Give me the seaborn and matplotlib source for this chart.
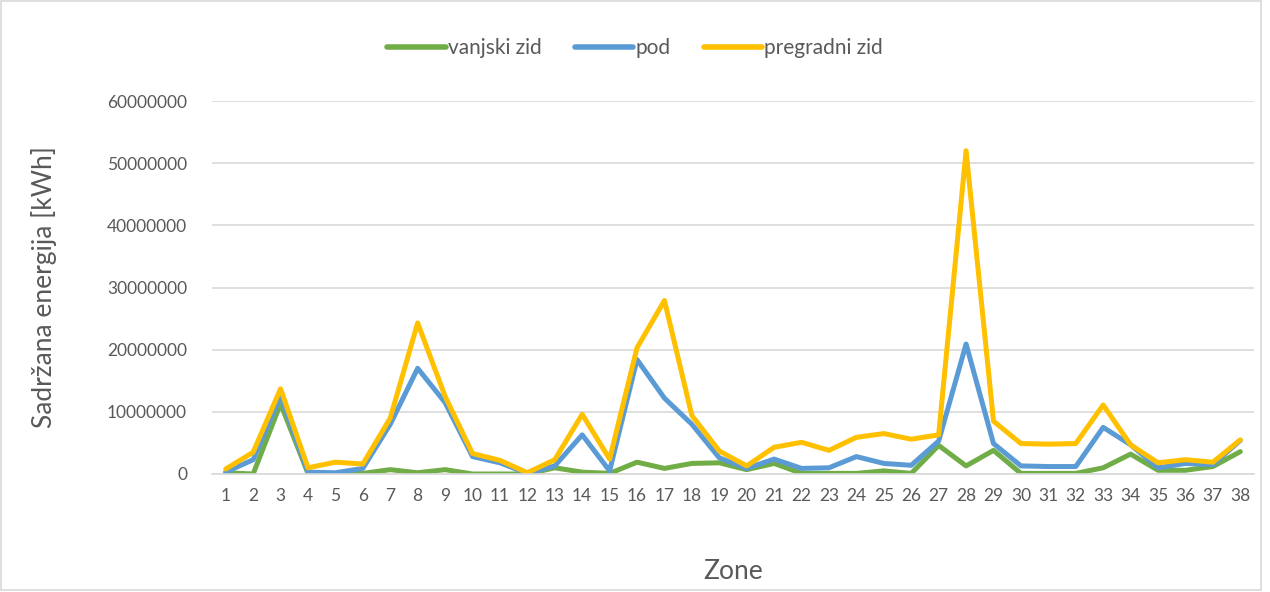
import pandas as pd
import matplotlib.pyplot as plt
import seaborn as sns
from matplotlib.patches import Rectangle

# --- Data (kWh) ---
ZONES = list(range(1, 39))

VANJSKI_ZID = [0.2, 0.0, 11.3, 0.1, 0.0, 0.1, 0.7, 0.2, 0.7, 0.0,
               0.0, 0.0, 1.0, 0.3, 0.1, 1.9, 0.9, 1.7, 1.8, 0.7,
               1.7, 0.1, 0.1, 0.1, 0.5, 0.1, 4.6, 1.3, 3.8, 0.1,
               0.1, 0.1, 1.0, 3.2, 0.6, 0.6, 1.2, 3.6]
POD = [0.3, 2.3, 12.5, 0.3, 0.2, 0.9, 8.0, 17.0, 11.5, 2.8,
       1.8, 0.1, 1.3, 6.3, 0.5, 18.4, 12.2, 8.0, 2.6, 0.9,
       2.4, 0.9, 1.0, 2.8, 1.7, 1.4, 5.3, 20.9, 4.9, 1.3,
       1.2, 1.2, 7.5, 4.7, 1.0, 1.7, 1.5, 5.4]
PREGRADNI_ZID = [0.8, 3.5, 13.7, 1.0, 1.9, 1.6, 9.0, 24.3, 12.5, 3.3,
                 2.2, 0.2, 2.3, 9.6, 2.4, 20.3, 27.9, 9.4, 3.7, 1.3,
                 4.3, 5.1, 3.8, 5.9, 6.5, 5.6, 6.3, 52.0, 8.5, 4.9,
                 4.8, 4.9, 11.1, 4.7, 1.8, 2.3, 1.9, 5.5]

SERIES = ['vanjski zid', 'pod', 'pregradni zid']
COLORS = ['#70AD47', '#5B9BD5', '#FFC000']
Y_TICKS = [0, 10000000, 20000000, 30000000, 40000000, 50000000, 60000000]

# --- Build long-form table ---
rows = []
for name, vals in zip(SERIES, [VANJSKI_ZID, POD, PREGRADNI_ZID]):
    for z, v in zip(ZONES, vals):
        rows.append({'Zone': z, 'Energija': v * 1e6, 'Serija': name})
df = pd.DataFrame(rows)

sns.set_theme(style='white')
plt.rcParams['font.family'] = ['Lato', 'DejaVu Sans']
TXT = '#595959'

fig = plt.figure(figsize=(12.7, 5.92), dpi=100)
ax = fig.add_axes([212 / 1270, 118 / 592, 1042 / 1270, 373 / 592])

sns.lineplot(data=df, x='Zone', y='Energija', hue='Serija', hue_order=SERIES,
             palette=COLORS, linewidth=3.6, ax=ax, legend=False)
for ln in ax.get_lines():
    ln.set_solid_joinstyle('round')
    ln.set_solid_capstyle('round')

ax.set_xlim(0.5, 38.5)
ax.set_ylim(0, 60000000)
ax.set_xticks(ZONES)
ax.set_xticklabels([str(z) for z in ZONES])
ax.set_yticks(Y_TICKS)
ax.set_yticklabels([str(t) for t in Y_TICKS])
ax.yaxis.grid(True, color='#D9D9D9', linewidth=1.2)
ax.set_axisbelow(True)
for side in ['left', 'right', 'top']:
    ax.spines[side].set_visible(False)
ax.spines['bottom'].set_color('#D9D9D9')
ax.spines['bottom'].set_linewidth(1.2)
ax.tick_params(axis='x', length=0, pad=10, labelsize=12.5, colors=TXT)
ax.tick_params(axis='y', length=0, pad=18, labelsize=12.5, colors=TXT)

ax.set_xlabel('Zone', fontsize=19, color=TXT, labelpad=40)
ax.set_ylabel('Sadržana energija [kWh]', fontsize=19, color=TXT, labelpad=36)

# legend on top
handles = [plt.Line2D([0], [0], color=c, linewidth=4, solid_capstyle='round') for c in COLORS]
fig.legend(handles, SERIES, loc='center', bbox_to_anchor=(0.5, 1 - 48 / 592), ncol=3,
           frameon=False, fontsize=15, labelcolor=TXT, handlelength=2.8,
           handletextpad=0.1, columnspacing=1.6)

# outer chart border
fig.patches.append(Rectangle((0.001, 0.003), 0.992, 0.995, transform=fig.transFigure,
                             fill=False, edgecolor='#D9D9D9', linewidth=1.2))

fig.savefig('out.png', dpi=100)
